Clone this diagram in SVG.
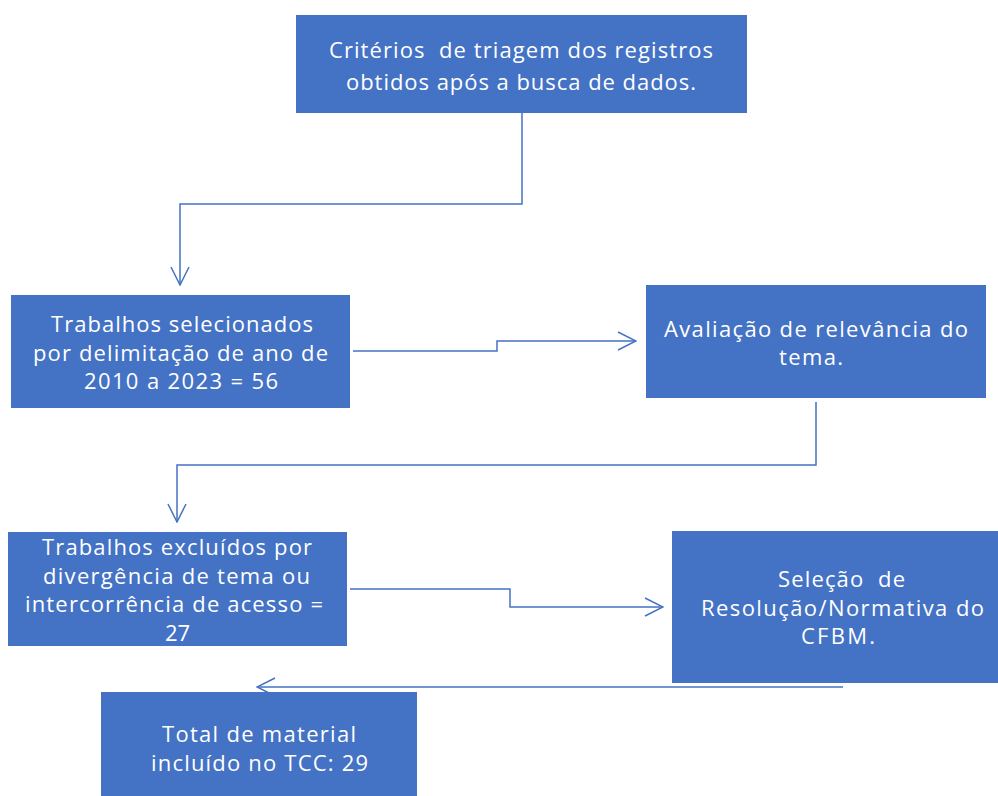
<svg xmlns="http://www.w3.org/2000/svg" width="998" height="796" viewBox="0 0 998 796">
<style>
.box{fill:#4472C4;}
.t{fill:#ffffff;font-family:"Open Sans","Liberation Sans",sans-serif;font-size:22px;text-anchor:middle;white-space:pre;}
.c{fill:none;stroke:#4472C4;stroke-width:1.5;}
</style>
<defs>
<marker id="ah" viewBox="0 0 20 20" refX="19" refY="10" markerWidth="20" markerHeight="20" markerUnits="userSpaceOnUse" orient="auto">
<path d="M1,1 L19,10 L1,19" fill="none" stroke="#4472C4" stroke-width="1.5"/>
</marker>
</defs>
<rect width="998" height="796" fill="#ffffff"/>
<g id="connectors">
<path class="c" d="M522,113 V204 H180 V285" marker-end="url(#ah)"/>
<path class="c" d="M353,351 H497 V341 H636" marker-end="url(#ah)"/>
<path class="c" d="M816,402 V465 H177 V522" marker-end="url(#ah)"/>
<path class="c" d="M350,589 H510 V607 H663" marker-end="url(#ah)"/>
<path class="c" d="M843,687 H257" marker-end="url(#ah)"/>
</g>
<g id="n1">
<rect class="box" x="296" y="15" width="451" height="98"/>
<text class="t" x="521" y="58" textLength="384" lengthAdjust="spacing" xml:space="preserve">Critérios  de triagem dos registros</text>
<text class="t" x="521" y="90" textLength="350" lengthAdjust="spacing">obtidos após a busca de dados.</text>
</g>
<g id="n2">
<rect class="box" x="11" y="295" width="339" height="113"/>
<text class="t" x="182" y="332" textLength="262" lengthAdjust="spacing">Trabalhos selecionados</text>
<text class="t" x="180.5" y="360.5" textLength="295" lengthAdjust="spacing">por delimitação de ano de</text>
<text class="t" x="181" y="389" textLength="194" lengthAdjust="spacing">2010 a 2023 = 56</text>
</g>
<g id="n3">
<rect class="box" x="646" y="285" width="340" height="113"/>
<text class="t" x="816" y="336.5" textLength="304" lengthAdjust="spacing">Avaliação de relevância do</text>
<text class="t" x="811" y="365" textLength="64" lengthAdjust="spacing">tema.</text>
</g>
<g id="n4">
<rect class="box" x="8" y="532" width="339" height="114"/>
<text class="t" x="177" y="555" textLength="270" lengthAdjust="spacing">Trabalhos excluídos por</text>
<text class="t" x="176.5" y="583.5" textLength="267" lengthAdjust="spacing">divergência de tema ou</text>
<text class="t" x="174" y="612" textLength="298" lengthAdjust="spacing">intercorrência de acesso =</text>
<text class="t" x="177.5" y="641">27</text>
</g>
<g id="n5">
<rect class="box" x="672" y="531" width="326" height="152"/>
<text class="t" x="841.5" y="587" textLength="127" lengthAdjust="spacing" xml:space="preserve">Seleção  de</text>
<text class="t" x="842.5" y="615.5" textLength="283" lengthAdjust="spacing">Resolução/Normativa do</text>
<text class="t" x="838" y="644" textLength="74" lengthAdjust="spacing">CFBM.</text>
</g>
<g id="n6">
<rect class="box" x="101" y="692" width="316" height="104"/>
<text class="t" x="259" y="742" textLength="194" lengthAdjust="spacing">Total de material</text>
<text class="t" x="259.5" y="770.5" textLength="217" lengthAdjust="spacing">incluído no TCC: 29</text>
</g>
</svg>
